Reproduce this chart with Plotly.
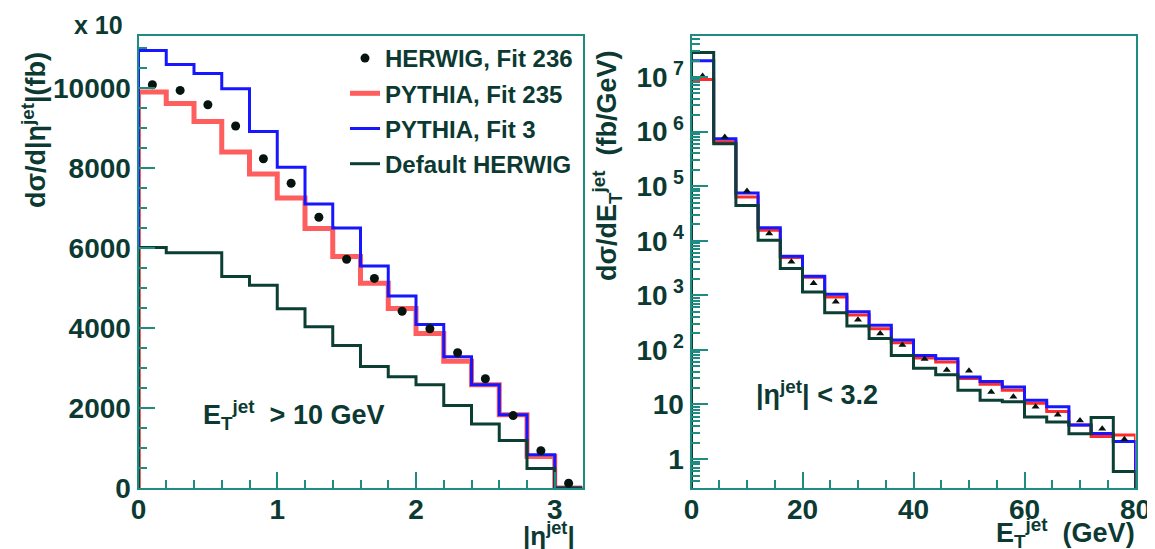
import plotly.graph_objects as go

# ---------------- data ----------------
# Left panel: |eta_jet| bins of width 0.2 from 0 to 3.2
eta_edges = [0.0, 0.2, 0.4, 0.6, 0.8, 1.0, 1.2, 1.4, 1.6, 1.8, 2.0, 2.2, 2.4, 2.6, 2.8, 3.0, 3.2]
eta_centers = [0.1, 0.3, 0.5, 0.7, 0.9, 1.1, 1.3, 1.5, 1.7, 1.9, 2.1, 2.3, 2.5, 2.7, 2.9, 3.1]
eta_herwig236 = [10080, 9940, 9580, 9050, 8230, 7620, 6770, 5720, 5240, 4420, 3980, 3380, 2730, 1810, 930, 120]
eta_pythia235 = [9900, 9610, 9160, 8400, 7850, 7250, 6490, 5790, 5120, 4490, 3860, 3170, 2580, 1830, 790, 0]
eta_pythia3 = [10940, 10590, 10360, 9980, 8910, 8020, 7100, 6500, 5550, 4800, 4090, 3280, 2580, 1830, 830, 0]
eta_default_herwig = [6010, 5880, 5880, 5290, 5070, 4480, 4030, 3560, 3040, 2780, 2580, 2060, 1600, 1190, 490, 0]

# Right panel: E_T bins of width 4 GeV from 0 to 80
et_edges = [0, 4, 8, 12, 16, 20, 24, 28, 32, 36, 40, 44, 48, 52, 56, 60, 64, 68, 72, 76, 80]
et_centers = [2, 6, 10, 14, 18, 22, 26, 30, 34, 38, 42, 46, 50, 54, 58, 62, 66, 70, 74, 78]
et_herwig236 = [1.04e7, 7.9e5, 8.1e4, 1.35e4, 4.1e3, 1.66e3, 760, 355, 200, 123, 68, 43, 41.7, 17, 13.8, 9.1, 6.5, 5.1, 3.6, 2.3]
et_pythia235 = [9.0e6, 6.5e5, 6.3e4, 1.55e4, 4.9e3, 2.14e3, 930, 437, 245, 135, 71, 60, 30, 23.4, 18.2, 10.5, 7.4, 4.2, 2.6, 2.75]
et_pythia3 = [1.97e7, 7.4e5, 7.5e4, 1.72e4, 5.2e3, 2.24e3, 1050, 500, 282, 151, 79, 69, 32, 26.3, 20.9, 12, 9.1, 4.2, 2.95, 2.1]
et_default_herwig = [2.8e7, 6.0e5, 4.4e4, 1.02e4, 3.1e3, 1.15e3, 480, 275, 162, 79, 46, 35, 18.2, 12, 11.2, 5.9, 4.8, 2.9, 5.75, 0.59]

eta_yticks = [0, 2000, 4000, 6000, 8000, 10000]
eta_yticktext = ["0", "2000", "4000", "6000", "8000", "10000"]
eta_xticks = [0, 1, 2, 3]
et_xticks = [0, 20, 40, 60, 80]
et_yticks = [1, 10, 100, 1000, 1e4, 1e5, 1e6, 1e7]
et_yticktext = ["1", "10", "10<sup> 2</sup>", "10<sup> 3</sup>", "10<sup> 4</sup>",
                "10<sup> 5</sup>", "10<sup> 6</sup>", "10<sup> 7</sup>"]

# ---------------- styling ----------------
OFF = 8                      # page body margin offset
W, H = 1155 - OFF, 549 - OFF
FONT = "Liberation Sans, Arial, sans-serif"
TXT = "#0c3a33"
FRAME = "#1f8c82"
RED = "#ff5e5e"
RED2 = "#ff2a2a"
BLUE = "#1616ff"
DARK = "#0b3f34"
DOT = "#06140f"


def fx(px):
    return (px - OFF) / W


def fy(py):
    return 1 - (py - OFF) / H


def step(edges, vals, floor):
    xs = [edges[0]] + list(edges[:-1]) + [edges[-1], edges[-1]]
    ys = [floor] + list(vals) + [vals[-1], floor]
    return xs, ys


fig = go.Figure()

# left panel
for vals, col, wid, name, rank in [
    (eta_pythia235, RED, 5, "PYTHIA, Fit 235", 2),
    (eta_pythia3, BLUE, 3, "PYTHIA, Fit 3", 3),
    (eta_default_herwig, DARK, 3, "Default HERWIG", 4),
]:
    xs, ys = step(eta_edges, vals, 0)
    fig.add_trace(go.Scatter(x=xs, y=ys, mode="lines", line=dict(color=col, width=wid, shape="hv"),
                             name=name, legendrank=rank, legendgroup=name, xaxis="x", yaxis="y"))
fig.add_trace(go.Scatter(x=eta_centers, y=eta_herwig236, mode="markers",
                         marker=dict(color=DOT, size=9, symbol="circle"),
                         name="HERWIG, Fit 236", legendrank=1, legendgroup="h236",
                         xaxis="x", yaxis="y"))

# right panel
for vals, col, wid in [
    (et_pythia235, RED2, 3),
    (et_pythia3, BLUE, 3),
    (et_default_herwig, DARK, 3),
]:
    xs, ys = step(et_edges, vals, 1e-3)
    fig.add_trace(go.Scatter(x=xs, y=ys, mode="lines", line=dict(color=col, width=wid, shape="hv"),
                             showlegend=False, xaxis="x2", yaxis="y2"))
fig.add_trace(go.Scatter(x=et_centers, y=et_herwig236, mode="markers",
                         marker=dict(color=DOT, size=7, symbol="triangle-up"),
                         showlegend=False, xaxis="x2", yaxis="y2"))

axis_common = dict(showline=True, linecolor=FRAME, linewidth=2, mirror=True,
                   ticks="inside", tickcolor=FRAME, tickwidth=2, ticklen=16,
                   showgrid=False, zeroline=False, automargin=False,
                   tickfont=dict(family=FONT, size=28, color=TXT, weight="bold"))
minor_common = dict(ticks="inside", ticklen=8, tickcolor=FRAME, tickwidth=2, showgrid=False)

y0 = fy(488)
y1 = fy(36)

fig.update_layout(
    width=W, height=H,
    margin=dict(l=0, r=0, t=0, b=0, pad=0, autoexpand=False),
    paper_bgcolor="white", plot_bgcolor="white",
    xaxis=dict(domain=[fx(138.5), fx(582.5)], range=[0, 3.2], anchor="y",
               tickvals=eta_xticks, ticklabelstandoff=-5,
               minor=dict(dtick=0.2, tick0=0, **minor_common),
               **axis_common),
    yaxis=dict(domain=[y0, y1], range=[0, 11300], anchor="x",
               tickvals=eta_yticks, ticktext=eta_yticktext,
               minor=dict(dtick=500, tick0=0, **minor_common),
               **axis_common),
    xaxis2=dict(domain=[fx(691.5), fx(1135.5)], range=[0, 80], anchor="y2",
                tickvals=et_xticks, ticklabelstandoff=-5,
                minor=dict(dtick=5, tick0=0, **minor_common),
                **axis_common),
    yaxis2=dict(domain=[y0, y1], type="log", range=[-0.53, 7.75], anchor="x2",
                tickvals=et_yticks, ticktext=et_yticktext,
                minor=dict(tickvals=[m * 10 ** e for e in range(-1, 8) for m in range(2, 10)],
                           **minor_common),
                **axis_common),
    showlegend=True,
    legend=dict(x=fx(345), y=fy(36), xanchor="left", yanchor="top",
                bgcolor="rgba(0,0,0,0)", traceorder="grouped", tracegroupgap=1,
                font=dict(family=FONT, size=24, color=TXT, weight="bold")),
)


def ann(text, px, py, size, angle=0, xanchor="center", yanchor="middle"):
    fig.add_annotation(text=text, x=fx(px), y=fy(py), xref="paper", yref="paper",
                       showarrow=False, textangle=angle, xanchor=xanchor, yanchor=yanchor,
                       font=dict(family=FONT, size=size, color=TXT, weight="bold"))


ann("x 10", 98, 25, 25)
ann("dσ/d|η<sup>jet</sup>|(fb)", 34, 130, 27, angle=-90)
ann("|η<sup>jet</sup>|", 549, 534, 26)
ann("E<sub>T</sub><sup>jet</sup>  > 10 GeV", 293, 415, 27)
ann("|η<sup>jet</sup>| < 3.2", 817, 393, 27)
ann("dσ/dE<sub>T</sub><sup>jet</sup>  (fb/GeV)", 607, 166, 27, angle=-90)
ann("E<sub>T</sub><sup>jet</sup>  (GeV)", 1137, 533, 27, xanchor="right")

fig.write_html("out.html")
